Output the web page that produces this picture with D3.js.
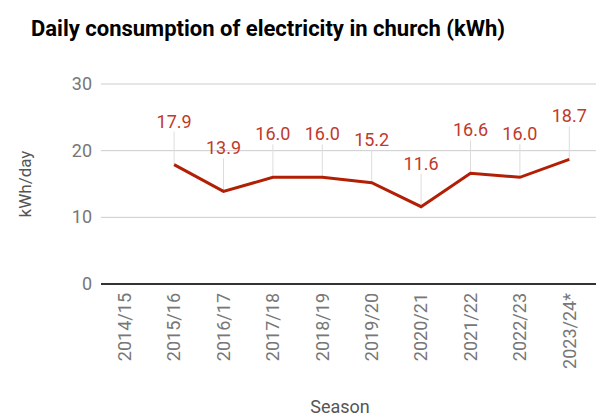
<!DOCTYPE html>
<html>
<head>
<meta charset="utf-8">
<script src="https://cdn.jsdelivr.net/npm/d3@7"></script>
<style>
  body { margin: 0; background: #fff; }
  text { font-family: Roboto, "Noto Sans", sans-serif; }
</style>
</head>
<body>
<svg id="chart" width="596" height="418"></svg>
<script>
const seasons = ["2014/15","2015/16","2016/17","2017/18","2018/19","2019/20","2020/21","2021/22","2022/23","2023/24*"];
const values = [null, 17.9, 13.9, 16.0, 16.0, 15.2, 11.6, 16.6, 16.0, 18.7];
const yTicks = [0, 10, 20, 30];
const titleText = "Daily consumption of electricity in church (kWh)";
const yTitle = "kWh/day";
const xTitle = "Season";

(function () {
const svg = d3.select("#chart");
const W = 596, H = 418;
const mLeft = 100, mRight = 594, mTop = 84, mBottom = 284;

const x = d3.scalePoint().domain(seasons).range([mLeft, mRight]).padding(0.5);
const y = d3.scaleLinear().domain([0, 30]).range([mBottom, mTop]);

svg.append("rect").attr("width", W).attr("height", H).attr("fill", "#fff");

// title
svg.append("text").attr("x", 31).attr("y", 36)
  .attr("font-size", 22).attr("font-weight", "bold").attr("fill", "#000")
  .text(titleText);

// gridlines
svg.append("g").selectAll("line").data(yTicks.filter(d => d !== 0)).join("line")
  .attr("x1", mLeft + 1).attr("x2", W)
  .attr("y1", d => y(d)).attr("y2", d => y(d))
  .attr("stroke", "#cccccc").attr("stroke-width", 1);

// y tick labels
svg.append("g").selectAll("text").data(yTicks).join("text")
  .attr("x", 92).attr("y", d => y(d)).attr("dy", "0.33em")
  .attr("text-anchor", "end").attr("font-size", 18).attr("fill", "#777")
  .text(d => d);

// y axis title
svg.append("text").attr("transform", `translate(31,${(mTop + mBottom) / 2}) rotate(-90)`)
  .attr("text-anchor", "middle").attr("font-size", 17).attr("fill", "#555")
  .text(yTitle);

// x tick labels
svg.append("g").selectAll("text").data(seasons).join("text")
  .attr("transform", d => `translate(${x(d)},293) rotate(-90)`)
  .attr("text-anchor", "end").attr("dy", "0.35em")
  .attr("font-size", 18).attr("fill", "#777")
  .text(d => d);

// x axis title
svg.append("text").attr("x", 340).attr("y", 413)
  .attr("text-anchor", "middle").attr("font-size", 18).attr("fill", "#555")
  .text(xTitle);

const pts = seasons.map((s, i) => ({ s, v: values[i] })).filter(d => d.v != null);

// leader lines
svg.append("g").selectAll("line").data(pts).join("line")
  .attr("x1", d => x(d.s)).attr("x2", d => x(d.s))
  .attr("y1", d => y(d.v)).attr("y2", d => y(d.v) - 33)
  .attr("stroke", "#dddddd").attr("stroke-width", 1);

// baseline
svg.append("line").attr("x1", mLeft + 1).attr("x2", W)
  .attr("y1", y(0)).attr("y2", y(0))
  .attr("stroke", "#333").attr("stroke-width", 2);

// line
const line = d3.line().x(d => x(d.s)).y(d => y(d.v));
svg.append("path").datum(pts).attr("d", line)
  .attr("fill", "none").attr("stroke", "#b21f04").attr("stroke-width", 3)
  .attr("stroke-linejoin", "miter");

// value labels
svg.append("g").selectAll("text").data(pts).join("text")
  .attr("x", d => x(d.s)).attr("y", d => y(d.v) - 37)
  .attr("text-anchor", "middle").attr("font-size", 18).attr("fill", "#c0392b")
  .text(d => d.v.toFixed(1));
})();
</script>
</body>
</html>
